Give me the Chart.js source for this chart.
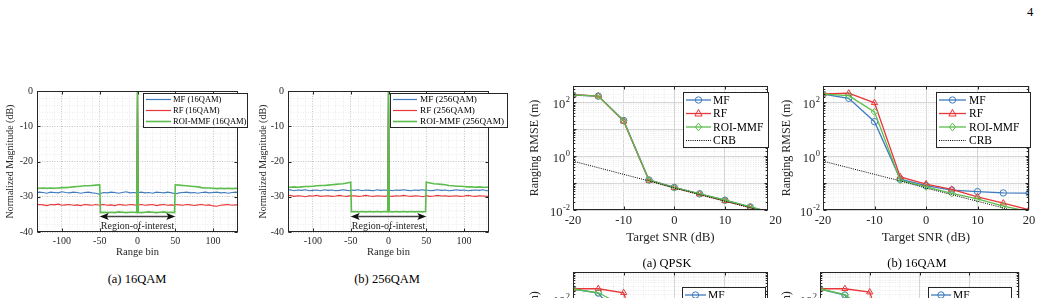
<!DOCTYPE html>
<html>
<head>
<meta charset="utf-8">
<title>Range profiles and ranging RMSE</title>
<script src="https://cdn.jsdelivr.net/npm/chart.js@4.4.1/dist/chart.umd.min.js"></script>
<style>
  html, body { margin: 0; padding: 0; background: #fff; }
  body { position: relative; width: 1040px; height: 298px; overflow: hidden;
         font-family: "Liberation Serif", "Times New Roman", serif; color: #000; }
  canvas { position: absolute; }
  .txt { position: absolute; font-size: 12.5px; line-height: 14px; white-space: nowrap; transform: translateX(-50%); }
</style>
</head>
<body>
<div class="txt" style="left:1030px;top:5px">4</div>

<canvas id="profile16" width="255" height="180" style="left:0px;top:80px"></canvas>
<canvas id="profile256" width="260" height="180" style="left:255px;top:80px"></canvas>
<canvas id="rmseQpsk" width="272" height="165" style="left:515px;top:80px"></canvas>
<canvas id="rmse16" width="260" height="165" style="left:780px;top:80px"></canvas>
<canvas id="rmse64" width="265" height="150" style="left:515px;top:266px"></canvas>
<canvas id="rmse256" width="260" height="150" style="left:780px;top:266px"></canvas>

<div class="txt" style="left:137px;top:272px">(a) 16QAM</div>
<div class="txt" style="left:387px;top:272px">(b) 256QAM</div>
<div class="txt" style="left:667px;top:256px">(a) QPSK</div>
<div class="txt" style="left:917px;top:256px">(b) 16QAM</div>

<script>
// ---- range profiles: range bin vs normalized magnitude (dB) ----
const bins = [
  -135, -130, -125, -120, -115, -110, -105, -100, -95, -90, -85, -80, -75, -70, -65, -60, -55, -50,
  -49,
  -45, -40, -35, -30, -25, -20, -15, -10, -5,
  -1, 0, 1,
  5, 10, 15, 20, 25, 30, 35, 40, 45,
  49,
  50, 55, 60, 65, 70, 75, 80, 85, 90, 95, 100, 105, 110, 115, 120, 125, 130, 135,
];

const prof16Mf = [
  -28.9, -28.7, -28.8, -29.0, -28.7, -28.8, -28.9, -28.6, -28.8, -28.9, -28.7, -28.8, -29.0, -28.8, -28.7, -28.9, -29.0, -29.3,
  -29.1,
  -28.8, -28.9, -28.7, -28.8, -29.0, -28.8, -28.6, -28.9, -28.8,
  -28.9, 0, -28.8,
  -28.7, -28.9, -28.8, -29.0, -28.7, -28.8, -28.9, -28.7, -28.9,
  -29.1,
  -29.2, -28.9, -28.8, -28.7, -28.9, -28.8, -29.0, -28.8, -28.7, -28.9, -28.8, -28.7, -28.9, -28.8, -29.0, -28.8, -28.7, -28.9,
];
const prof16Rf = [
  -32.4, -32.2, -32.3, -32.5, -32.2, -32.3, -32.1, -32.4, -32.3, -32.2, -32.4, -32.3, -32.5, -32.2, -32.3, -32.4, -32.2, -32.4,
  -32.3,
  -32.2, -32.4, -32.3, -32.5, -32.2, -32.3, -32.4, -32.2, -32.3,
  -32.4, 0, -32.3,
  -32.2, -32.4, -32.3, -32.2, -32.5, -32.3, -32.2, -32.4, -32.3,
  -32.4,
  -32.2, -32.3, -32.4, -32.2, -32.3, -32.5, -32.3, -32.2, -32.4, -32.3, -32.6, -32.7, -32.4, -32.3, -32.2, -32.4, -32.3, -32.3,
];
const prof16Roi = [
  -27.6, -27.6, -27.5, -27.6, -27.5, -27.6, -27.5, -27.4, -27.4, -27.3, -27.2, -27.1, -27.0, -26.9, -26.9, -26.8, -26.7, -26.6,
  -34.5,
  -34.4, -34.5, -34.4, -34.5, -34.3, -34.4, -34.5, -34.4, -34.4,
  -34.5, 0, -34.4,
  -34.5, -34.4, -34.3, -34.4, -34.5, -34.4, -34.3, -34.5, -34.4,
  -34.5,
  -26.6, -26.7, -26.8, -26.9, -27.0, -27.1, -27.2, -27.4, -27.5, -27.5, -27.6, -27.7, -27.6, -27.7, -27.6, -27.7, -27.6, -27.7,
];

const prof256Mf = [
  -28.2, -28.0, -28.3, -28.1, -28.2, -28.0, -28.3, -28.2, -28.1, -28.3, -28.0, -28.2, -28.1, -28.3, -28.2, -28.0, -28.2, -28.3,
  -28.1,
  -28.2, -28.0, -28.3, -28.1, -28.2, -28.3, -28.0, -28.2, -28.1,
  -28.2, 0, -28.1,
  -28.3, -28.1, -28.2, -28.0, -28.2, -28.3, -28.1, -28.2, -28.0,
  -28.2,
  -28.1, -28.3, -28.2, -28.0, -28.2, -28.1, -28.3, -28.2, -28.0, -28.2, -28.1, -28.3, -28.2, -28.1, -28.2, -28.0, -28.3, -28.2,
];
const prof256Rf = [
  -29.8, -29.6, -29.9, -29.7, -29.8, -30.0, -29.7, -29.8, -29.6, -29.9, -29.8, -29.7, -29.9, -29.8, -29.6, -29.8, -29.9, -29.7,
  -29.8,
  -29.7, -29.9, -29.8, -29.6, -29.8, -29.9, -29.7, -29.8, -29.9,
  -29.7, 0, -29.8,
  -29.9, -29.7, -29.8, -29.6, -29.8, -29.9, -29.7, -29.8, -30.0,
  -29.8,
  -29.7, -29.9, -29.8, -29.6, -29.8, -29.7, -29.9, -29.8, -29.7, -29.9, -29.8, -29.6, -29.8, -29.9, -29.7, -29.8, -29.9, -29.8,
];
const prof256Roi = [
  -27.3, -27.3, -27.2, -27.3, -27.2, -27.1, -27.1, -27.0, -26.9, -26.8, -26.8, -26.7, -26.6, -26.5, -26.4, -26.3, -26.1, -25.9,
  -34.3,
  -34.2, -34.3, -34.2, -34.3, -34.2, -34.3, -34.2, -34.3, -34.2,
  -34.3, 0, -34.2,
  -34.3, -34.2, -34.3, -34.2, -34.3, -34.2, -34.3, -34.2, -34.3,
  -34.2,
  -25.9, -26.1, -26.3, -26.4, -26.5, -26.6, -26.8, -26.9, -27.0, -27.0, -27.1, -27.2, -27.2, -27.3, -27.2, -27.3, -27.3, -27.3,
];

const rangeXTicks = [-100, -50, 0, 50, 100];
const rangeYTicks = [-40, -30, -20, -10, 0];

// ---- ranging RMSE (m) vs target SNR (dB) ----
const snr = [-20, -15, -10, -5, 0, 5, 10, 15, 20];
const crb = [0.65, 0.37, 0.21, 0.12, 0.065, 0.037, 0.021, 0.012, 0.0065];

const rmseQpskMf = [185, 168, 21, 0.13, 0.069, 0.04, 0.023, 0.013, 0.0074];
const rmseQpskRf = [192, 170, 19.5, 0.125, 0.067, 0.039, 0.022, 0.0125, 0.0071];
const rmseQpskRoi = [188, 168, 20.5, 0.128, 0.068, 0.04, 0.023, 0.013, 0.0073];

const rmse16Mf = [200, 140, 19, 0.14, 0.08, 0.055, 0.048, 0.043, 0.042];
const rmse16Rf = [205, 215, 95, 0.17, 0.092, 0.058, 0.031, 0.018, 0.0102];
const rmse16Roi = [200, 175, 44, 0.125, 0.072, 0.041, 0.026, 0.014, 0.0088];

const rmse64Mf = [235, 165, 12, 0.14, 0.078, 0.047, 0.032, 0.026, 0.024];
const rmse64Rf = [240, 240, 170, 0.2, 0.1, 0.062, 0.036, 0.021, 0.012];
const rmse64Roi = [235, 170, 55, 0.13, 0.071, 0.041, 0.025, 0.014, 0.009];

const rmse256Mf = [235, 140, 8, 0.15, 0.085, 0.055, 0.042, 0.036, 0.034];
const rmse256Rf = [240, 240, 180, 0.25, 0.12, 0.07, 0.04, 0.022, 0.013];
const rmse256Roi = [235, 145, 30, 0.14, 0.073, 0.042, 0.026, 0.015, 0.009];

const snrTicks = [-20, -10, 0, 10, 20];
const rmseYTicks = [0.01, 1, 100];

// ---- styling ----
const FONT = "'Liberation Serif', 'Times New Roman', serif";
const INK = "#262626";
const BLUE = "#3e7bbd";
const RED = "#e8363a";
const GREEN = "#5cbd4c";

Chart.defaults.font.family = FONT;
Chart.defaults.color = INK;
Chart.defaults.animation = false;
Chart.defaults.plugins.legend.display = false;
Chart.defaults.plugins.tooltip.enabled = false;

const isDecade = (v) => Math.abs(Math.log10(v) - Math.round(Math.log10(v))) < 1e-9;

// minor grid positions (major ones get labels)
const rangeXGrid = [];
for (let v = -130; v <= 130; v += 10) rangeXGrid.push(v);
const rangeYGrid = [];
for (let v = -40; v <= 0; v += 2) rangeYGrid.push(v);
const snrGrid = [];
for (let v = -20; v <= 20; v += 2) snrGrid.push(v);

function drawMarker(ctx, style, cx, cy, r) {
  ctx.beginPath();
  if (style === "circle") {
    ctx.arc(cx, cy, r, 0, Math.PI * 2);
  } else if (style === "triangle") {
    ctx.moveTo(cx, cy - r * 1.15);
    ctx.lineTo(cx + r, cy + r * 0.7);
    ctx.lineTo(cx - r, cy + r * 0.7);
    ctx.closePath();
  } else {
    ctx.moveTo(cx, cy - r * 1.15);
    ctx.lineTo(cx + r * 0.9, cy);
    ctx.lineTo(cx, cy + r * 1.15);
    ctx.lineTo(cx - r * 0.9, cy);
    ctx.closePath();
  }
  ctx.stroke();
}

// MATLAB-like box, inward ticks, log labels, annotation and legend
const matlabAxes = {
  id: "matlabAxes",
  afterDraw(chart, args, o) {
    const { ctx, chartArea: a } = chart;
    const x = chart.scales.x, y = chart.scales.y;
    const L = Math.round(a.left) + 0.5, R = Math.round(a.right) - 0.5;
    const T = Math.round(a.top) + 0.5, B = Math.round(a.bottom) - 0.5;
    ctx.save();

    // region-of-interest arrow
    if (o.roi) {
      const y0 = Math.round(y.getPixelForValue(o.roi.arrowDb)) + 0.5;
      const xl = x.getPixelForValue(o.roi.from), xr = x.getPixelForValue(o.roi.to);
      ctx.strokeStyle = "#444";
      ctx.lineWidth = 1.5;
      ctx.beginPath();
      ctx.moveTo(xl + 6, y0);
      ctx.lineTo(xr - 6, y0);
      ctx.stroke();
      ctx.fillStyle = "#111";
      ctx.beginPath();
      ctx.moveTo(xl, y0); ctx.lineTo(xl + 9, y0 - 3.5); ctx.lineTo(xl + 7, y0); ctx.lineTo(xl + 9, y0 + 3.5);
      ctx.closePath(); ctx.fill();
      ctx.beginPath();
      ctx.moveTo(xr, y0); ctx.lineTo(xr - 9, y0 - 3.5); ctx.lineTo(xr - 7, y0); ctx.lineTo(xr - 9, y0 + 3.5);
      ctx.closePath(); ctx.fill();
      ctx.font = "10px " + FONT;
      ctx.fillStyle = INK;
      ctx.textAlign = "center";
      ctx.textBaseline = "middle";
      ctx.fillText(o.roi.text, x.getPixelForValue(0), y.getPixelForValue(o.roi.textDb));
    }

    // inward tick marks
    ctx.strokeStyle = INK;
    ctx.lineWidth = 1;
    ctx.beginPath();
    x.ticks.forEach((t) => {
      if (!o.xMajor.includes(t.value)) return;
      const px = Math.round(x.getPixelForValue(t.value)) + 0.5;
      if (px < L - 0.1 || px > R + 0.1) return;
      ctx.moveTo(px, B); ctx.lineTo(px, B - 3);
      ctx.moveTo(px, T); ctx.lineTo(px, T + 3);
    });
    y.ticks.forEach((t) => {
      const major = o.logY ? isDecade(t.value) : o.yMajor.includes(t.value);
      const len = major ? 3 : (o.logY ? 1.8 : 0);
      if (!len) return;
      const py = Math.round(y.getPixelForValue(t.value)) + 0.5;
      ctx.moveTo(L, py); ctx.lineTo(L + len, py);
      ctx.moveTo(R, py); ctx.lineTo(R - len, py);
    });
    ctx.stroke();
    ctx.strokeRect(L, T, R - L, B - T);

    // 10^n labels on the log axis
    if (o.logLabels) {
      ctx.fillStyle = INK;
      ctx.textAlign = "right";
      ctx.textBaseline = "middle";
      o.logLabels.forEach((v) => {
        const py = y.getPixelForValue(v);
        const e = String(Math.round(Math.log10(v)));
        const ex = a.left - 3;
        ctx.font = "8.5px " + FONT;
        ctx.fillText(e, ex, py - 2.5);
        const ew = ctx.measureText(e).width;
        ctx.font = "12.5px " + FONT;
        ctx.fillText("10", ex - ew - 0.5, py + 2.5);
      });
    }

    // tick label that sits past the clipped axis end
    (o.extraXLabels || []).forEach((v) => {
      ctx.font = "12.5px " + FONT;
      ctx.fillStyle = INK;
      ctx.textAlign = "center";
      ctx.textBaseline = "top";
      ctx.fillText(String(v), x.getPixelForValue(v), a.bottom + o.xLabelGap);
    });

    // legend box
    if (o.legend) {
      const g = o.legend, ox = o.origin[0], oy = o.origin[1];
      const bx = Math.round(g.box[0] - ox) + 0.5, by = Math.round(g.box[1] - oy) + 0.5;
      const bw = g.box[2] - g.box[0], bh = g.box[3] - g.box[1];
      ctx.fillStyle = "#fff";
      ctx.fillRect(bx, by, bw, bh);
      ctx.strokeStyle = INK;
      ctx.lineWidth = 1;
      ctx.strokeRect(bx, by, bw, bh);
      chart.data.datasets.forEach((ds, i) => {
        const ry = g.rows[i] - oy;
        ctx.strokeStyle = ds.borderColor;
        ctx.lineWidth = Math.max(1.2, ds.borderWidth);
        ctx.setLineDash(ds.borderDash || []);
        ctx.beginPath();
        ctx.moveTo(g.line[0] - ox, ry);
        ctx.lineTo(g.line[1] - ox, ry);
        ctx.stroke();
        ctx.setLineDash([]);
        if (ds.pointRadius) {
          ctx.lineWidth = 1;
          drawMarker(ctx, ds.pointStyle, (g.line[0] + g.line[1]) / 2 - ox, ry, ds.pointRadius);
        }
        ctx.fillStyle = "#000";
        ctx.font = g.size + "px " + FONT;
        ctx.textAlign = "left";
        ctx.textBaseline = "middle";
        ctx.fillText(ds.label, g.text - ox, ry + 0.5);
      });
    }
    ctx.restore();
  },
};

function frame(canvas, origin, plot) {
  return {
    padding: { left: 0, top: plot.t - origin[1], right: origin[0] + canvas.width - plot.r, bottom: 0 },
    yWidth: plot.l - origin[0],
    xHeight: origin[1] + canvas.height - plot.b,
  };
}

// Range profile chart
function profileChart(id, origin, plot, series, legend, yTitlePad) {
  const canvas = document.getElementById(id);
  const f = frame(canvas, origin, plot);
  new Chart(canvas, {
    type: "line",
    data: {
      datasets: series.map((s, i) => ({
        label: s.label,
        data: bins.map((b, k) => ({ x: b, y: s.values[k] })),
        borderColor: s.color,
        borderWidth: s.width,
        pointRadius: 0,
        order: series.length - i,
      })),
    },
    options: {
      responsive: false,
      layout: { autoPadding: false, padding: f.padding },
      scales: {
        x: {
          type: "linear",
          min: -133,
          max: 133,
          afterBuildTicks: (s) => { s.ticks = rangeXGrid.map((v) => ({ value: v })); },
          afterFit: (s) => { s.height = f.xHeight; },
          grid: {
            drawTicks: false,
            color: (c) => (rangeXTicks.includes(c.tick.value) ? "#c4c4c4" : "#ececec"),
          },
          border: { display: false, dash: [1, 1.5] },
          ticks: {
            autoSkip: false, maxRotation: 0, padding: 3, font: { size: 10 },
            callback: (v) => (rangeXTicks.includes(v) ? String(v) : ""),
          },
          title: { display: true, text: "Range bin", font: { size: 10.5 }, padding: { top: 0, bottom: 1 } },
        },
        y: {
          min: -40,
          max: 0,
          afterBuildTicks: (s) => { s.ticks = rangeYGrid.map((v) => ({ value: v })); },
          afterFit: (s) => { s.width = f.yWidth; },
          grid: {
            drawTicks: false,
            color: (c) => (rangeYTicks.includes(c.tick.value) ? "#c4c4c4" : "#ececec"),
          },
          border: { display: false, dash: [1, 1.5] },
          ticks: {
            autoSkip: false, padding: 4, font: { size: 10 },
            callback: (v) => (rangeYTicks.includes(v) ? String(v) : ""),
          },
          title: { display: true, text: "Normalized Magnitude (dB)", font: { size: 10 }, padding: { top: yTitlePad, bottom: 0 } },
        },
      },
      plugins: {
        matlabAxes: {
          origin, legend, xMajor: rangeXTicks, yMajor: rangeYTicks,
          roi: { from: -50, to: 50, arrowDb: -35.5, textDb: -38.3, text: "Region-of-interest" },
        },
      },
    },
    plugins: [matlabAxes],
  });
}

// Ranging RMSE chart
function rmseChart(id, origin, plot, mf, rf, roi, yMax, xMax, legend, yTitlePad, extraXLabels) {
  const canvas = document.getElementById(id);
  const f = frame(canvas, origin, plot);
  const pts = (vals) => snr.map((s, k) => ({ x: s, y: vals[k] }));
  const marked = (label, vals, color, style, r, order) => ({
    label, data: pts(vals), borderColor: color, borderWidth: 1.3,
    pointStyle: style, pointRadius: r, pointBorderWidth: 1,
    pointBorderColor: color, pointBackgroundColor: "rgba(0,0,0,0)", order,
  });
  new Chart(canvas, {
    type: "line",
    data: {
      datasets: [
        marked("MF", mf, BLUE, "circle", 3.2, 3),
        marked("RF", rf, RED, "triangle", 3.6, 2),
        marked("ROI-MMF", roi, GREEN, "rectRot", 3.4, 1),
        { label: "CRB", data: pts(crb), borderColor: "#000", borderWidth: 1, borderDash: [1, 1.2], pointRadius: 0, order: 0 },
      ],
    },
    options: {
      responsive: false,
      layout: { autoPadding: false, padding: f.padding },
      scales: {
        x: {
          type: "linear",
          min: -20,
          max: xMax,
          afterBuildTicks: (s) => { s.ticks = snrGrid.filter((v) => v <= xMax).map((v) => ({ value: v })); },
          afterFit: (s) => { s.height = f.xHeight; },
          grid: {
            drawTicks: false,
            color: (c) => (snrTicks.includes(c.tick.value) ? "#d6d6d6" : "#ebebeb"),
          },
          border: { display: false, dash: (c) => (snrTicks.includes(c.tick.value) ? [] : [1, 1.5]) },
          ticks: {
            autoSkip: false, maxRotation: 0, padding: 3, font: { size: 12.5 },
            callback: (v) => (snrTicks.includes(v) ? String(v) : ""),
          },
          title: { display: true, text: "Target SNR (dB)", font: { size: 13 }, padding: { top: 0, bottom: 0 } },
        },
        y: {
          type: "logarithmic",
          min: 0.01,
          max: yMax,
          afterFit: (s) => { s.width = f.yWidth; },
          grid: {
            drawTicks: false,
            color: (c) => (isDecade(c.tick.value) ? "#d6d6d6" : "#ebebeb"),
          },
          border: { display: false, dash: (c) => (isDecade(c.tick.value) ? [] : [1, 1.5]) },
          ticks: { display: false },
          title: { display: true, text: "Ranging RMSE (m)", font: { size: 12 }, padding: { top: yTitlePad, bottom: 0 } },
        },
      },
      plugins: {
        matlabAxes: {
          origin, legend, xMajor: snrTicks, logY: true, logLabels: rmseYTicks,
          extraXLabels, xLabelGap: 4,
        },
      },
    },
    plugins: [matlabAxes],
  });
}

profileChart("profile16", [0, 80], { l: 37, t: 91, r: 238, b: 232 }, [
  { label: "MF (16QAM)", values: prof16Mf, color: BLUE, width: 1.1 },
  { label: "RF (16QAM)", values: prof16Rf, color: RED, width: 1.1 },
  { label: "ROI-MMF (16QAM)", values: prof16Roi, color: GREEN, width: 1.6 },
], { box: [143, 93, 247, 127], rows: [99.5, 110.5, 121.5], line: [146, 171], text: 173, size: 8.5 }, 4);

profileChart("profile256", [255, 80], { l: 288, t: 91, r: 489, b: 232 }, [
  { label: "MF (256QAM)", values: prof256Mf, color: BLUE, width: 1.1 },
  { label: "RF (256QAM)", values: prof256Rf, color: RED, width: 1.1 },
  { label: "ROI-MMF (256QAM)", values: prof256Roi, color: GREEN, width: 1.6 },
], { box: [390, 93, 507, 127], rows: [99.5, 110.5, 121.5], line: [393, 417], text: 420, size: 9.2 }, 2);

rmseChart("rmseQpsk", [515, 80], { l: 573, t: 86, r: 768, b: 210 },
  rmseQpskMf, rmseQpskRf, rmseQpskRoi, 400, 18.5,
  { box: [683, 92, 768, 147], rows: [100, 113.5, 127, 140.5], line: [686, 711], text: 713, size: 11.5 }, 13, [20]);

rmseChart("rmse16", [780, 80], { l: 823, t: 86, r: 1029, b: 210 },
  rmse16Mf, rmse16Rf, rmse16Roi, 400, 20,
  { box: [936, 92, 1030, 147], rows: [100, 113.5, 127, 140.5], line: [939, 966], text: 969, size: 11.5 }, 0, []);

rmseChart("rmse64", [515, 266], { l: 573, t: 272, r: 768, b: 407 },
  rmse64Mf, rmse64Rf, rmse64Roi, 1000, 18.5,
  { box: [682, 287, 765, 342], rows: [295, 308.5, 322, 335.5], line: [685, 706], text: 708, size: 11.5 }, 13, []);

rmseChart("rmse256", [780, 266], { l: 820, t: 272, r: 1019, b: 407 },
  rmse256Mf, rmse256Rf, rmse256Roi, 1000, 20,
  { box: [928, 287, 1011, 342], rows: [295, 308.5, 322, 335.5], line: [931, 951], text: 953, size: 11.5 }, 0, []);
</script>
</body>
</html>
